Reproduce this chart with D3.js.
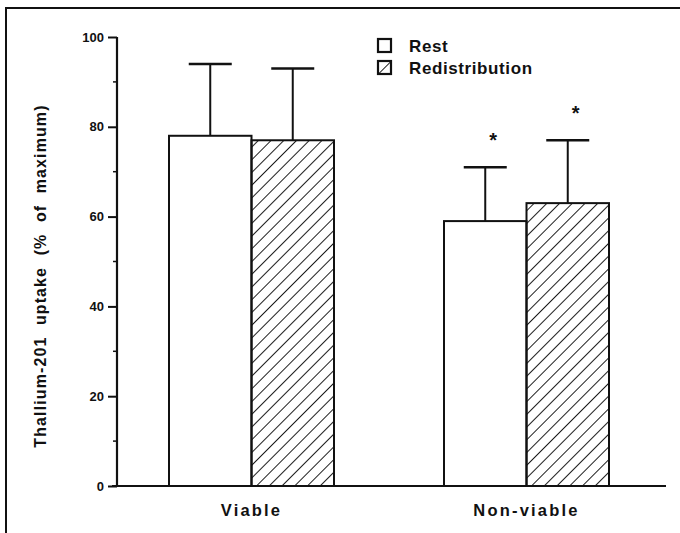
<!DOCTYPE html>
<html>
<head>
<meta charset="utf-8">
<script src="https://cdn.jsdelivr.net/npm/d3@7"></script>
<style>
  body { margin: 0; background: #fff; }
  text { font-family: "Liberation Sans", Arial, sans-serif; fill: #111; }
</style>
</head>
<body>
<svg id="chart" width="680" height="533"></svg>
<script>
var groups = ['Viable', 'Non-viable'];
var series = ['Rest', 'Redistribution'];
var means = [[78, 77], [59, 63]];
var sds = [[16, 16], [12, 14]];
var signif = [[false, false], [true, true]];
var yTicks = [0, 20, 40, 60, 80, 100];
var yTitle = 'Thallium-201 uptake (% of maximum)';

var svg = d3.select('#chart');

// frame round the figure
svg.append('path')
  .attr('d', 'M6,540 L6,8 L690,8')
  .attr('fill', 'none').attr('stroke', '#111').attr('stroke-width', 2);

var defs = svg.append('defs');
defs.append('pattern')
  .attr('id', 'hatch')
  .attr('patternUnits', 'userSpaceOnUse')
  .attr('width', 9).attr('height', 9)
  .attr('patternTransform', 'rotate(45)')
  .append('line')
  .attr('x1', 0).attr('y1', 0).attr('x2', 0).attr('y2', 9)
  .attr('stroke', '#111').attr('stroke-width', 1.9);

var y = d3.scaleLinear().domain([0, 100]).range([486, 37]);
var x0 = d3.scaleBand().domain(groups).range([114, 664]).paddingInner(0.4).paddingOuter(0.2);
var x1 = d3.scaleBand().domain(series).range([0, x0.bandwidth()]);

// bars
var g = svg.selectAll('.grp').data(groups).enter().append('g')
  .attr('transform', function(d) { return 'translate(' + x0(d) + ',0)'; });

g.each(function(grp, gi) {
  var sel = d3.select(this);
  series.forEach(function(s, si) {
    var m = means[gi][si], sd = sds[gi][si];
    var cx = x1(s) + x1.bandwidth() / 2;
    // error bar
    sel.append('line')
      .attr('x1', cx).attr('x2', cx)
      .attr('y1', y(m)).attr('y2', y(m + sd))
      .attr('stroke', '#111').attr('stroke-width', 2);
    sel.append('line')
      .attr('x1', cx - 21.5).attr('x2', cx + 21.5)
      .attr('y1', y(m + sd)).attr('y2', y(m + sd))
      .attr('stroke', '#111').attr('stroke-width', 2.6);
    sel.append('rect')
      .attr('x', x1(s)).attr('y', y(m))
      .attr('width', x1.bandwidth()).attr('height', y(0) - y(m))
      .attr('fill', si === 0 ? '#fff' : 'url(#hatch)')
      .attr('stroke', '#111').attr('stroke-width', 2);
    if (signif[gi][si]) {
      sel.append('text')
        .attr('x', cx + 8).attr('y', y(m + sd) - 20)
        .attr('text-anchor', 'middle')
        .attr('font-size', 20).attr('font-weight', 'bold')
        .text('*');
    }
  });
});

// y axis
var yAxis = d3.axisLeft(y).tickValues(yTicks).tickSize(9).tickPadding(4);
var ya = svg.append('g').attr('transform', 'translate(117,0)').call(yAxis);
ya.select('.domain').attr('d', 'M0,' + y(100) + 'V' + y(0)).attr('stroke', '#111').attr('stroke-width', 2.2);
ya.selectAll('.tick line').attr('stroke', '#111').attr('stroke-width', 2);
ya.selectAll('.tick text').attr('font-size', 13).attr('font-weight', 'bold')
  .attr('font-family', '"Liberation Sans", Arial, sans-serif').attr('fill', '#111');
ya.selectAll('.minor').data(d3.range(10, 100, 20)).enter().append('line')
  .attr('x1', -4).attr('x2', 0)
  .attr('y1', function(d) { return y(d); }).attr('y2', function(d) { return y(d); })
  .attr('stroke', '#111').attr('stroke-width', 1.5);

// x axis baseline
svg.append('line')
  .attr('x1', 112).attr('x2', 666)
  .attr('y1', y(0)).attr('y2', y(0))
  .attr('stroke', '#111').attr('stroke-width', 2.2);

svg.selectAll('.glabel').data(groups).enter().append('text')
  .attr('x', function(d) { return x0(d) + x0.bandwidth() / 2; })
  .attr('y', 516)
  .attr('text-anchor', 'middle')
  .attr('font-size', 16.5).attr('font-weight', 'bold')
  .attr('letter-spacing', 2.2)
  .text(function(d) { return d; });

// y title
svg.append('text')
  .attr('transform', 'translate(46,276) rotate(-90)')
  .attr('text-anchor', 'middle')
  .attr('font-size', 16).attr('font-weight', 'bold')
  .attr('letter-spacing', 1.1).attr('word-spacing', 6)
  .text(yTitle);

// legend
var leg = svg.selectAll('.leg').data(series).enter().append('g')
  .attr('transform', function(d, i) { return 'translate(378,' + (39 + i * 22) + ')'; });
leg.append('rect')
  .attr('width', 13).attr('height', 13)
  .attr('fill', function(d, i) { return i === 0 ? '#fff' : 'url(#hatch)'; })
  .attr('stroke', '#111').attr('stroke-width', 2.2);
leg.append('text')
  .attr('x', 31).attr('y', 13)
  .attr('font-size', 17).attr('font-weight', 'bold')
  .attr('letter-spacing', 0.6)
  .text(function(d) { return d; });
</script>
</body>
</html>
